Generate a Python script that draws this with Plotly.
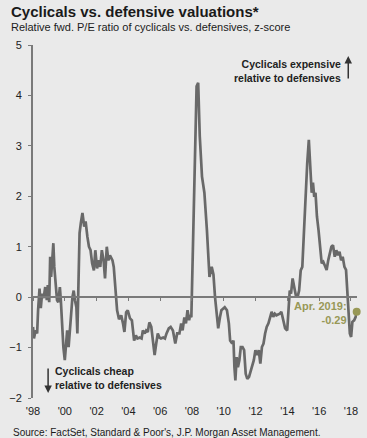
import plotly.graph_objects as go

years = [
1998.00,1998.06,1998.16,1998.26,1998.32,1998.41,1998.49,1998.57,1998.67,1998.77,1998.87,1998.93,
1999.02,1999.08,1999.14,1999.22,1999.28,1999.34,1999.42,1999.51,1999.59,1999.69,1999.75,1999.83,1999.91,
2000.00,2000.07,2000.15,2000.24,2000.32,2000.40,2000.48,2000.56,2000.64,2000.73,2000.79,2000.85,2000.93,
2001.01,2001.11,2001.22,2001.31,2001.42,2001.52,2001.62,2001.72,2001.83,2001.92,
2002.03,2002.13,2002.23,2002.33,2002.44,2002.53,2002.64,2002.74,2002.84,
2003.00,2003.08,2003.20,2003.29,2003.41,2003.55,2003.66,2003.75,2003.86,2003.96,
2004.10,2004.22,2004.36,2004.47,2004.57,2004.71,2004.83,2004.91,
2005.03,2005.12,2005.22,2005.32,2005.44,2005.52,2005.65,2005.75,2005.85,2005.95,
2006.05,2006.19,2006.30,2006.40,2006.54,2006.66,2006.80,2006.95,
2007.07,2007.21,2007.32,2007.41,2007.52,2007.62,2007.72,2007.82,2007.88,2007.96,
2008.02,2008.17,2008.29,2008.39,2008.49,2008.63,2008.78,2008.94,
2009.10,2009.24,2009.35,2009.45,2009.55,2009.65,2009.76,2009.85,
2010.06,2010.20,2010.32,2010.40,2010.53,2010.61,2010.67,2010.73,2010.81,2010.89,2010.98,
2011.07,2011.18,2011.28,2011.38,2011.48,2011.59,2011.69,2011.79,2011.89,2011.99,
2012.09,2012.20,2012.30,2012.40,2012.50,2012.60,2012.70,2012.81,2012.91,
2013.01,2013.11,2013.21,2013.31,2013.52,2013.62,2013.72,2013.86,2013.99,
2014.06,2014.15,2014.23,2014.33,2014.43,2014.53,2014.64,2014.74,2014.84,2014.94,
2015.04,2015.14,2015.25,2015.35,2015.45,2015.53,2015.61,2015.69,2015.77,2015.86,2015.96,
2016.06,2016.16,2016.26,2016.37,2016.47,2016.57,2016.67,2016.77,2016.87,2016.98,
2017.08,2017.18,2017.28,2017.38,2017.48,2017.59,2017.69,2017.79,2017.85,2017.93,
2018.01,2018.09,2018.20,2018.30,2018.36]

zscore = [
-0.59,-0.82,-0.66,-0.72,-0.26,0.17,-0.22,0.07,-0.02,0.20,-0.06,0.24,
-0.10,0.80,0.40,0.87,1.07,0.60,0.27,-0.06,-0.10,0.20,-0.06,-0.59,-0.99,
-1.25,-0.92,-0.66,-0.99,-0.72,-0.33,0.00,0.13,-0.06,-0.20,-0.72,0.27,1.27,
1.47,1.67,1.40,1.50,1.20,1.00,0.93,0.67,0.53,0.93,
0.57,0.73,0.60,0.93,0.73,0.37,1.00,0.73,0.83,
0.73,0.60,0.00,-0.26,-0.44,-0.36,-0.52,-0.69,-0.30,-0.26,
-0.42,-0.46,-0.86,-0.76,-0.82,-0.80,-0.82,-0.66,
-0.72,-0.66,-0.69,-0.50,-0.59,-0.80,-1.15,-0.92,-0.72,-0.80,
-0.82,-0.80,-0.82,-0.72,-0.62,-0.59,-0.66,-0.92,
-0.72,-0.72,-0.52,-0.66,-0.40,-0.52,-0.26,-0.46,-0.36,-0.40,
0.40,2.52,4.18,4.25,3.19,2.39,2.07,1.33,
0.40,0.60,0.45,0.00,-0.26,-0.62,-0.40,-0.26,
-0.20,-0.26,-0.52,-0.86,-0.92,-0.86,-1.39,-1.65,-1.19,-1.39,-1.25,
-0.99,-0.99,-1.05,-1.52,-1.62,-1.58,-1.45,-1.32,-1.25,-1.05,
-1.15,-1.05,-1.32,-0.99,-0.92,-0.72,-0.59,-0.52,-0.39,
-0.29,-0.39,-0.33,-0.36,-0.33,-0.29,-0.46,-0.62,-0.66,
-0.20,0.13,0.07,0.37,0.20,0.04,0.00,0.13,0.53,0.60,
1.27,1.99,2.66,3.12,2.59,2.07,2.27,1.99,2.07,1.60,1.33,
1.00,0.67,0.70,0.60,0.54,0.73,0.87,1.00,1.03,0.80,
0.93,0.83,0.90,0.73,0.80,0.60,0.54,0.00,-0.52,-0.72,
-0.79,-0.49,-0.46,-0.39,-0.29]

tick_years = [1998, 2000, 2002, 2004, 2006, 2008, 2010, 2012, 2014, 2016, 2018]
tick_labels = ["'98", "'00", "'02", "'04", "'06", "'08", "'10", "'12", "'14", "'16", "'18"]
y_ticks = [-2, -1, 0, 1, 2, 3, 4, 5]

latest_label = "Apr. 2019:<br>-0.29"

BG = "#eaeaea"
LINE = "#696969"
OLIVE = "#989856"
FONT = "Liberation Sans, Arial, sans-serif"

fig = go.Figure()
fig.add_trace(go.Scatter(x=years, y=zscore, mode="lines",
                         line=dict(color=LINE, width=2.7), hoverinfo="skip",
                         showlegend=False))
fig.add_trace(go.Scatter(x=[years[-1]], y=[zscore[-1]], mode="markers",
                         marker=dict(color=OLIVE, size=8), cliponaxis=False,
                         showlegend=False, hoverinfo="skip"))
# axis carrying tick marks on the zero line
fig.add_trace(go.Scatter(x=[years[0]], y=[0], xaxis="x2", yaxis="y",
                         mode="markers", marker=dict(opacity=0),
                         showlegend=False, hoverinfo="skip"))

xr = [1998, 2018.38]
fig.update_layout(
    width=367, height=438,
    margin=dict(l=24, r=9, t=45, b=40),
    paper_bgcolor=BG, plot_bgcolor=BG,
    font=dict(family=FONT, color="#222222"),
    xaxis=dict(range=xr, tickvals=tick_years, ticktext=tick_labels,
               showgrid=False, zeroline=False, showline=False, ticks="",
               ticklabelstandoff=5, tickfont=dict(size=11, color="#222")),
    xaxis2=dict(range=xr, overlaying="x", anchor="free", position=2/7,
                tickvals=tick_years, showticklabels=False, showgrid=False,
                zeroline=False, showline=True, linecolor="#7a7a7a", linewidth=1.5,
                ticks="outside", ticklen=3, tickcolor="#7a7a7a", tickwidth=1),
    yaxis=dict(range=[-2, 5], tickvals=y_ticks, showgrid=False, zeroline=False,
               showline=True, linecolor="#7a7a7a", linewidth=1.8,
               ticks="outside", ticklen=3, tickcolor="#7a7a7a",
               ticklabelstandoff=4,
               tickfont=dict(size=11, color="#222")),
)

fig.add_annotation(xref="paper", yref="paper", x=-24/334, y=1 + 34/353,
                   xanchor="left", yanchor="middle", showarrow=False, xshift=-1,
                   text="<b>Cyclicals vs. defensive valuations*</b>",
                   font=dict(size=15, color="#1a1a1a"))
fig.add_annotation(xref="paper", yref="paper", x=-24/334, y=1 + 18/353,
                   xanchor="left", yanchor="middle", showarrow=False, xshift=-1,
                   text="Relative fwd. P/E ratio of cyclicals vs. defensives, z-score",
                   font=dict(size=11, color="#1a1a1a"))
fig.add_annotation(xref="paper", yref="paper", x=-22/334, y=-34/353,
                   xanchor="left", yanchor="middle", showarrow=False, xshift=-1,
                   text="Source: FactSet, Standard & Poor's, J.P. Morgan Asset Management.",
                   font=dict(size=10, color="#1a1a1a"))

fig.add_annotation(x=2017.40, y=4.48, xanchor="right", yanchor="middle",
                   showarrow=False, align="right", xshift=2,
                   text="<b>Cyclicals expensive<br>relative to defensives</b>",
                   font=dict(size=10.5, color="#222"))
fig.add_annotation(x=1999.53, y=-1.61, xanchor="left", yanchor="middle",
                   showarrow=False, align="left", xshift=-4,
                   text="<b>Cyclicals cheap<br>relative to defensives</b>",
                   font=dict(size=10.5, color="#222"))
fig.add_annotation(x=2017.83, y=4.78, ax=0, ay=24, showarrow=True,
                   arrowhead=2, arrowsize=1, arrowwidth=1.5, arrowcolor="#333", text="")
fig.add_annotation(x=1998.95, y=-1.90, ax=0, ay=-26, showarrow=True,
                   arrowhead=2, arrowsize=1, arrowwidth=1.5, arrowcolor="#333", text="")
fig.add_annotation(x=2017.69, y=-0.32, xanchor="right", yanchor="middle",
                   showarrow=False, align="right", xshift=3,
                   text="<b>" + latest_label + "</b>",
                   font=dict(size=11, color=OLIVE))

fig.write_html("out.html")
